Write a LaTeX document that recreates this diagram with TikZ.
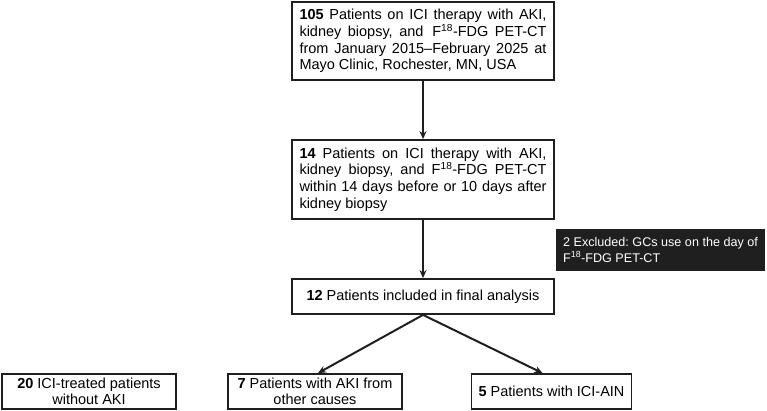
\documentclass[tikz,border=0pt]{standalone}
\usepackage{fontspec}
\setmainfont{Liberation Sans}
\usetikzlibrary{arrows.meta,calc}
\begin{document}
\frenchspacing
\hyphenpenalty=10000
\exhyphenpenalty=10000
\begin{tikzpicture}[x=1pt,y=-1pt,
  font=\fontsize{14.5}{16.7}\selectfont,
  box/.style={draw=black!88,line width=1.8pt,inner xsep=7pt,inner ysep=0pt,minimum height=#1,anchor=center},
  justbox/.style={box=#1,minimum width=262pt,text width=247pt,align=justify},
  cbox/.style={box=35pt,align=center,font=\fontsize{14.5}{16.2}\selectfont},
  darkbox/.style={fill=black!88,text=white,inner xsep=2pt,inner ysep=0pt,minimum width=209pt,minimum height=42pt,align=left,font=\fontsize{12.6}{15.5}\selectfont},
  arr/.style={line width=2pt,draw=black!88,-{Stealth[length=8pt,width=7pt]}}]
\useasboundingbox (0,0) rectangle (767,411);
\node[justbox=78pt] (b1) at (423,41) {\textbf{105} Patients on ICI therapy with AKI, kidney biopsy, and\, F\textsuperscript{18}-FDG PET-CT from January 2015--February 2025 at Mayo Clinic, Rochester, MN, USA\par};
\node[justbox=79pt] (b2) at (423,179.5) {\textbf{14} Patients on ICI therapy with AKI, kidney biopsy, and F\textsuperscript{18}-FDG PET-CT within 14 days before or 10 days after kidney biopsy\par};
\node[darkbox] (ex) at (660.5,250) {2 Excluded: GCs use on the day of\\F\textsuperscript{18}-FDG PET-CT};
\node[cbox,minimum width=262pt] (b3) at (423,296.5) {\textbf{12} Patients included in final analysis};
\node[cbox,minimum width=174pt] (b20) at (89,391.5) {\textbf{20} ICI-treated patients\\without AKI};
\node[cbox,minimum width=174pt] (b7) at (315,391.5) {\textbf{7} Patients with AKI from\\other causes};
\node[cbox,minimum width=159pt] (b5) at (551.5,391.5) {\textbf{5} Patients with ICI-AIN};
\draw[arr] (b1.south) -- (b2.north);
\draw[arr] (b2.south) -- (b3.north);
\draw[arr] (b3.south) -- ([xshift=3pt]b7.north);
\draw[arr] (b3.south) -- ([xshift=-9pt]b5.north);
\end{tikzpicture}
\end{document}
